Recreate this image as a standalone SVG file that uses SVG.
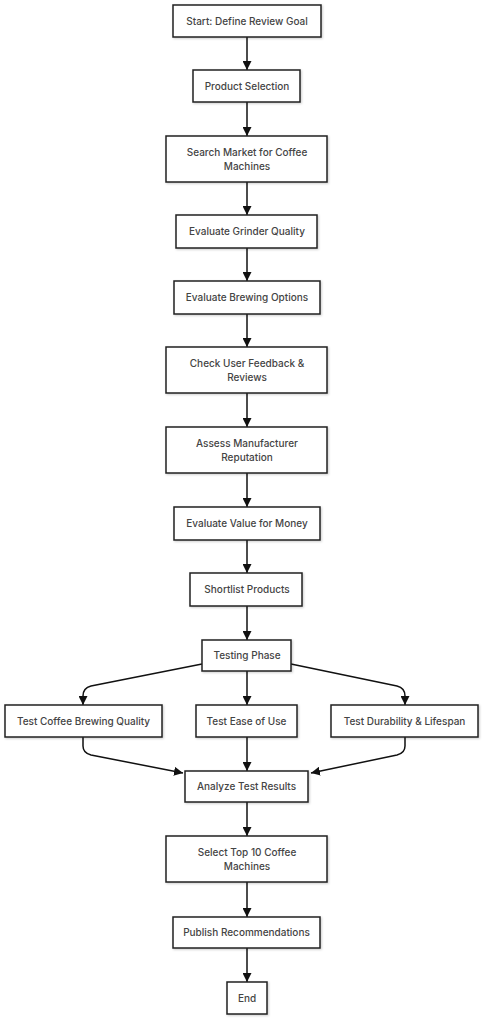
<svg xmlns="http://www.w3.org/2000/svg" width="486" height="1024" viewBox="0 0 486 1024">
<defs>
<marker id="arr" viewBox="0 0 10 10" refX="10" refY="5" markerWidth="9" markerHeight="9" markerUnits="userSpaceOnUse" orient="auto">
<path d="M0,0 L10,5 L0,10 z" fill="#111"/>
</marker>
<filter id="sh" x="-10%" y="-20%" width="130%" height="150%">
<feDropShadow dx="1" dy="1" stdDeviation="1" flood-color="#000" flood-opacity="0.2"/>
</filter>
</defs>
<style>
.n rect{fill:#fff;stroke:#222;stroke-width:1.5;filter:url(#sh)}
.n text{font-family:Inter,"Open Sans",sans-serif;font-size:10px;font-weight:500;fill:#444;text-anchor:middle}
.e path{fill:none;stroke:#111;stroke-width:1.5;marker-end:url(#arr)}
</style>
<rect width="486" height="1024" fill="#fff"/>
<g class="e" id="edges">
<path d="M247,37 V70"/>
<path d="M247,102 V136"/>
<path d="M247,182 V215"/>
<path d="M247,248 V281"/>
<path d="M247,314 V347"/>
<path d="M247,393 V427"/>
<path d="M247,473 V507"/>
<path d="M247,540 V573"/>
<path d="M247,606 V640"/>
<path d="M202,664 L91,686 Q83,688 83,696 V705"/>
<path d="M247,671 V705"/>
<path d="M291,664 L397,686 Q405,688 405,696 V705"/>
<path d="M83,737 V746 Q83,753 91,755 L183,773"/>
<path d="M247,737 V771"/>
<path d="M405,737 V746 Q405,753 397,755 L311,773"/>
<path d="M247,802 V836"/>
<path d="M247,882 V917"/>
<path d="M247,948 V982"/>
</g>
<g class="n" id="start"><rect x="173" y="5" width="148" height="32"/><text x="247" y="24.5">Start: Define Review Goal</text></g>
<g class="n" id="product"><rect x="193" y="70" width="107" height="32"/><text x="247" y="89.5">Product Selection</text></g>
<g class="n" id="search"><rect x="166" y="136" width="161" height="46"/><text x="247" y="156">Search Market for Coffee</text><text x="247" y="170">Machines</text></g>
<g class="n" id="grinder"><rect x="176" y="215" width="141" height="33"/><text x="247" y="235">Evaluate Grinder Quality</text></g>
<g class="n" id="brewing"><rect x="174" y="281" width="146" height="33"/><text x="247" y="301">Evaluate Brewing Options</text></g>
<g class="n" id="feedback"><rect x="166" y="347" width="161" height="46"/><text x="247" y="367">Check User Feedback &amp;</text><text x="247" y="381">Reviews</text></g>
<g class="n" id="reputation"><rect x="166" y="427" width="161" height="46"/><text x="247" y="447">Assess Manufacturer</text><text x="247" y="461">Reputation</text></g>
<g class="n" id="value"><rect x="174" y="507" width="146" height="33"/><text x="247" y="527">Evaluate Value for Money</text></g>
<g class="n" id="shortlist"><rect x="190" y="573" width="112" height="33"/><text x="247" y="593">Shortlist Products</text></g>
<g class="n" id="testing"><rect x="202" y="640" width="89" height="31"/><text x="247" y="659">Testing Phase</text></g>
<g class="n" id="t1"><rect x="5" y="705" width="157" height="32"/><text x="83.5" y="724.5">Test Coffee Brewing Quality</text></g>
<g class="n" id="t2"><rect x="196" y="705" width="101" height="32"/><text x="246.5" y="724.5">Test Ease of Use</text></g>
<g class="n" id="t3"><rect x="331" y="705" width="147" height="32"/><text x="404.5" y="724.5">Test Durability &amp; Lifespan</text></g>
<g class="n" id="analyze"><rect x="185" y="771" width="123" height="31"/><text x="246.5" y="790">Analyze Test Results</text></g>
<g class="n" id="select"><rect x="166" y="836" width="161" height="46"/><text x="247" y="856">Select Top 10 Coffee</text><text x="247" y="870">Machines</text></g>
<g class="n" id="publish"><rect x="173" y="917" width="147" height="31"/><text x="246.5" y="936">Publish Recommendations</text></g>
<g class="n" id="end"><rect x="227" y="982" width="40" height="32"/><text x="247" y="1001.5">End</text></g>
</svg>
